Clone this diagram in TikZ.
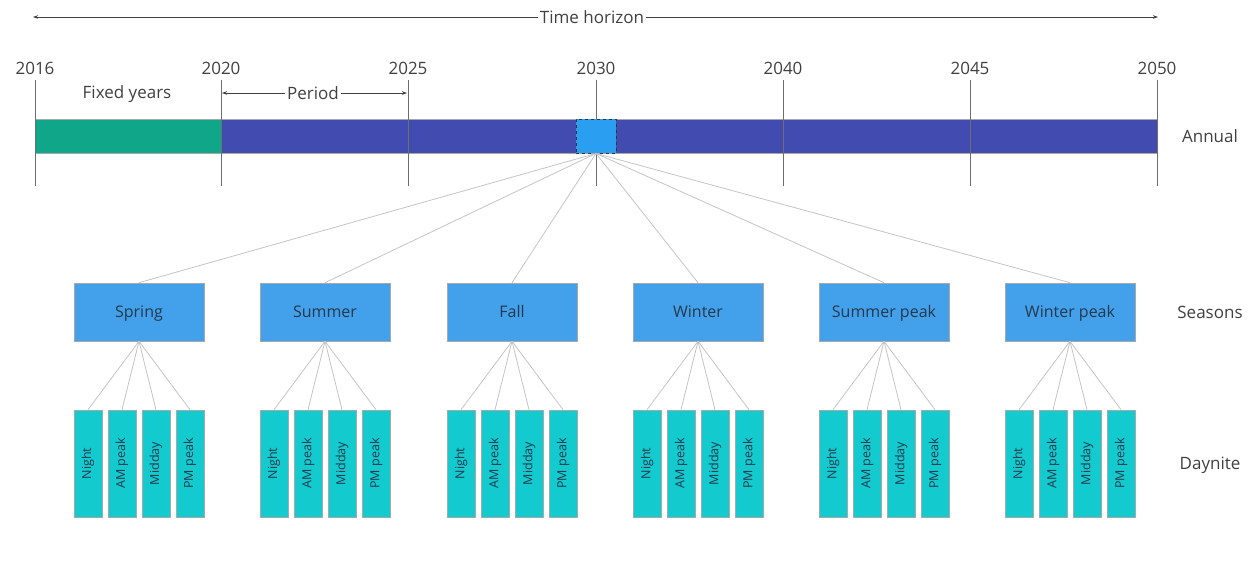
\documentclass[tikz,border=0pt]{standalone}
\usepackage{fontspec}
\setmainfont{Open Sans}
\usetikzlibrary{arrows.meta}
\definecolor{txt}{HTML}{404040}
\definecolor{boxtxt}{HTML}{26384C}
\definecolor{fixedc}{HTML}{0FA68A}
\definecolor{barc}{HTML}{424BB0}
\definecolor{hlc}{HTML}{2A9EF0}
\definecolor{seasonc}{HTML}{43A1EB}
\definecolor{dayc}{HTML}{13CACF}
\definecolor{edgec}{HTML}{A8A8A8}
\definecolor{linkc}{HTML}{C4C4C4}
\definecolor{tickc}{HTML}{6E6E6E}
\newcommand{\daypart}[1]{\rotatebox{90}{\vphantom{Agy}#1}}
\tikzset{
  lbl/.style={text=txt, font=\fontsize{17}{20}\selectfont, inner sep=1pt},
  yearlbl/.style={lbl},
  seasonbox/.style={draw=edgec, line width=0.6pt, fill=seasonc, minimum width=130pt,
    minimum height=58pt, text=boxtxt, font=\fontsize{16}{19}\selectfont, inner sep=0pt,
    text height=11.5pt, text depth=0pt},
  daybox/.style={draw=edgec, line width=0.6pt, fill=dayc, minimum width=28pt,
    minimum height=107pt, text=boxtxt, font=\fontsize{12.5}{15}\selectfont, inner sep=0pt},
  link/.style={draw=linkc, line width=0.8pt},
  tick/.style={draw=tickc, line width=0.8pt},
  span/.style={draw=txt, line width=0.8pt, {Stealth[length=5pt,width=3.5pt]}-{Stealth[length=5pt,width=3.5pt]}},
}
\begin{document}
\begin{tikzpicture}[x=1pt,y=-1pt]
\useasboundingbox (0,0) rectangle (1251,577);

% time horizon
\coordinate (th0) at (33,17);
\coordinate (th1) at (1158,17);
\draw[span] (th0) -- (th1);
\node[lbl, fill=white, inner sep=2pt] (thl) at (592,17) {Time horizon};

% annual bar
\draw[draw=edgec, line width=0.6pt, fill=fixedc] (35,119) rectangle (221,153);
\draw[draw=edgec, line width=0.6pt, fill=barc] (221,119) rectangle (1157,153);

% year ticks and labels
\foreach \x/\y in {35/2016, 221/2020, 408/2025, 596/2030, 783/2040, 970/2045, 1157/2050} {
  \node[yearlbl] (y\y) at (\x,68) {\y};
  \coordinate (t\y) at (\x,186);
  \draw[tick] (\x,80) -- (t\y);
}

% highlighted year
\node[draw=black!80, dashed, line width=0.9pt, fill=hlc, minimum width=40pt,
  minimum height=34pt, inner sep=0pt] (hl) at (596,136) {};

% labels on the bar row
\node[lbl] (fixed) at (127,94) {Fixed years};
\coordinate (p0) at (222,93);
\coordinate (p1) at (407,93);
\draw[span] (p0) -- (p1);
\node[lbl, fill=white, inner sep=2pt] (period) at (313,93) {Period};

% level names
\node[lbl] (annual) at (1210,136) {Annual};
\node[lbl] (seasons) at (1210,312) {Seasons};
\node[lbl] (daynite) at (1210,465) {Daynite};

% seasons and day parts
\foreach \i/\cx/\name in {1/139/Spring, 2/325/Summer, 3/512/Fall, 4/698/Winter,
    5/884/Summer peak, 6/1070/Winter peak} {
  \node[seasonbox] (s\i) at (\cx,312) {\name};
  \draw[link] (hl.south) -- (s\i.north);
  \foreach \j/\dx/\part in {1/-51/Night, 2/-17/AM peak, 3/17/Midday, 4/51/PM peak} {
    \node[daybox] (d\i\j) at (\cx+\dx,463.5) {\daypart{\part}};
    \draw[link] (s\i.south) -- (d\i\j.north);
  }
}
\end{tikzpicture}
\end{document}
